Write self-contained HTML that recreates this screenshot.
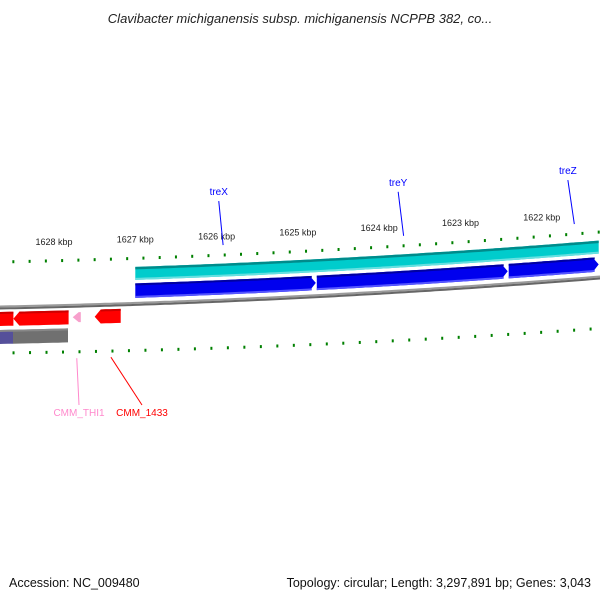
<!DOCTYPE html>
<html><head><meta charset="utf-8"><style>
body{margin:0;background:#fff;}
svg{display:block;font-family:"Liberation Sans",sans-serif;}
</style></head><body>
<svg id="map" width="600" height="600" viewBox="0 0 600 600">
<text x="300" y="23" text-anchor="middle" font-size="13" font-style="italic" fill="#222">Clavibacter michiganensis subsp. michiganensis NCPPB 382, co...</text>
<text x="9" y="587" font-size="12.5" fill="#111">Accession: NC_009480</text>
<text x="591" y="587" text-anchor="end" font-size="12.5" fill="#111">Topology: circular; Length: 3,297,891 bp; Genes: 3,043</text>
</svg>
<script>
const tickKbp = [1628,1627,1626,1625,1624,1623,1622];
const blueGenes = [[1627,1624.78],[1624.78,1622.42],[1622.42,1621.3]];
const cyanSpan = [[1627,1621.3]];
const redGenes = [[1628.7,1628.5],[1628.5,1627.82],[1627.5,1627.18]];
const pinkGenes = [[1627.77,1627.67]];
const labels = [["treX",1625.92,"#0000ff",-1],["treY",1623.7,"#0000ff",-1],["treZ",1621.6,"#0000ff",-1],["CMM_THI1",1627.72,"#ff88cc",1],["CMM_1433",1627.3,"#ff0000",1]];
const svg=document.getElementById('map');
const NS='http://www.w3.org/2000/svg';
const X=k=>54+(1628-k)*81.3;
const T=x=>262-0.02*x-5e-5*x*x;
function mk(tag,attrs){const e=document.createElementNS(NS,tag);for(const a in attrs)e.setAttribute(a,attrs[a]);svg.appendChild(e);return e;}
function band(x1,x2,o1,o2,fill,name,headR,headL){
  let pts=[];const h=6;
  let a=x1+(headL?h:0), b=x2-(headR?h:0);
  for(let x=a;x<=b;x+=5)pts.push([x,T(x)+o1]);
  pts.push([b,T(b)+o1]);
  if(headR)pts.push([x2,T(x2)+(o1+o2)/2]);
  pts.push([b,T(b)+o2]);
  for(let x=b;x>=a;x-=5)pts.push([x,T(x)+o2]);
  pts.push([a,T(a)+o2]);
  if(headL)pts.push([x1,T(x1)+(o1+o2)/2]);
  const e=mk('polygon',{points:pts.map(p=>p[0].toFixed(1)+','+p[1].toFixed(1)).join(' '),fill:fill});
  
  
  return e;
}
function line(x1,x2,o,col,w,name){
  let d='';for(let x=x1;x<=x2;x+=5)d+=(d?'L':'M')+x+','+(T(x)+o).toFixed(1);
  const e=mk('path',{d:d,stroke:col,'stroke-width':w,fill:'none'});
  
  
}
// backbone
line(0,600,44.5,'#9a9a9a',2,'backbone-top');
line(0,600,46.5,'#666',2,'backbone-bottom');
// cyan
cyanSpan.forEach(s=>{const a=X(s[0]),b=Math.min(600,X(s[1]));
 band(a,b,8.5,21.5,'#00cccc','cyan-feature');band(a,b,8.5,11,'#008b8b','cyan-edge');band(a,b,19.5,21.5,'#66e0e0','cyan-lower-edge');});
// blue
blueGenes.forEach((g,i)=>{const a=X(g[0]),b=Math.min(600,X(g[1]));const hr=X(g[1])<600;
 band(a+(i?1:0),b,25,39.5,'#0000ee','blue-gene',hr,false);
 band(a+(i?1:0),b-(hr?4:0),25,27,'#0000a0','blue-gene-edge');
 band(a+(i?1:0),b-(hr?4:0),37.5,39.5,'#5555ff','blue-gene-lower-edge');});
// red
redGenes.forEach((g,i)=>{const a=Math.max(0,X(g[0])),b=X(g[1]);
 band(a,b,50,64,'#ff0000','red-gene',false,i>0);band(a+(i>0?6:0),b,50,52,'#cc0000','red-gene-edge');});
pinkGenes.forEach(g=>band(X(g[0]),X(g[1]),52,62,'#f7a0cc','pink-gene',false,true));
band(0,13,68,82,'#55509a','purple-band');
band(13,68,68,82,'#707070','gray-band');
band(0,68,68,70,'#888','gray-band-edge');
// ticks
for(let k=1628.7;k>=1621.2;k-=0.2){
  const kk=Math.round(k*10)/10;const x=X(kk);if(x<0||x>600)continue;
  const major=Math.abs(kk-Math.round(kk))<0.01;
  const y=T(x);
  const t=mk('rect',{x:x-1,y:major?y-4:y-1.5,width:2,height:major?8:3,fill:'#008000'});
  
  
  const xi=x*1.014, yi=T(x)+91+0.008*x;
  if(xi<=600){const u=mk('rect',{x:xi-1,y:major?yi-4:yi-1.5,width:2,height:major?8:3,fill:'#008000'});
  
  }
}
tickKbp.forEach(k=>{const x=X(k);const t=mk('text',{x:x,y:T(x)-16,'text-anchor':'middle','font-size':'9',fill:'#222'});t.textContent=k+' kbp';
 
 });
labels.forEach(l=>{const x=X(l[1]);let ty,x2,y1,y2,tx;
 if(l[3]<0){y1=T(x)-10;x2=x-3-x*0.006;y2=y1-44;tx=x2;ty=y2-6;}
 else{y1=T(x)+98;tx=l[0]=='CMM_THI1'?79:142;x2=tx;y2=405;ty=416;}
 const ln=mk('line',{x1:x,y1:y1,x2:x2,y2:y2,stroke:l[2],'stroke-width':1});
 
 
 const t=mk('text',{x:tx,y:ty,'text-anchor':'middle','font-size':'10',fill:l[2]});t.textContent=l[0];
 
 });
</script>
</body></html>
